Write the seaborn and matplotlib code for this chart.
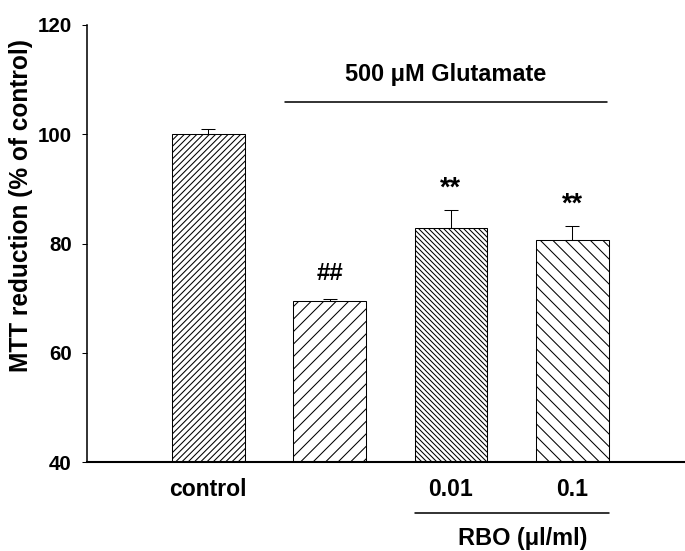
import matplotlib
matplotlib.use("Agg")
import matplotlib.pyplot as plt
import seaborn as sns
import numpy as np
import pandas as pd

# ---- data ----
categories = ["control", "glutamate", "0.01", "0.1"]
tick_labels = ["control", "", "0.01", "0.1"]
values = [100.0, 69.4, 82.9, 80.7]
errors = [1.0, 0.5, 3.2, 2.5]
hatches = ["////", "//", "\\\\\\\\\\", "\\\\"]
marks = ["", "##", "**", "**"]

DPI = 75
def pt(px):
    return px * 72.0 / DPI

sns.set_theme(style="ticks")
plt.rcParams['font.family'] = ['Liberation Sans', 'DejaVu Sans']
plt.rcParams['font.weight'] = 'bold'
plt.rcParams['hatch.linewidth'] = 1.0

fig = plt.figure(figsize=(685 / DPI, 551 / DPI), dpi=DPI)
ax = fig.add_axes([87 / 685, (551 - 462) / 551, 1 - 87 / 685, (462 - 25) / 551])

df = pd.DataFrame({"group": categories, "value": values})
sns.barplot(data=df, x="group", y="value", order=categories, color="white",
            edgecolor="black", linewidth=1.0, width=0.6, errorbar=None, ax=ax,
            saturation=1)
for patch, h in zip(ax.patches, hatches):
    patch.set_hatch(h)
    patch.set_facecolor("white")
    patch.set_edgecolor("black")

xs = np.arange(len(categories))
ax.errorbar(xs, values, yerr=[np.zeros(len(errors)), errors], fmt="none",
            ecolor="black", elinewidth=1.0, capsize=pt(7), capthick=1.0)

for x, v, e, m in zip(xs, values, errors, marks):
    if m:
        fs = 24 if m == "##" else 27
        off = 4.6 if m == "##" else 3.9
        ax.text(x, v + e + off, m, ha="center", va="center",
                fontsize=pt(fs), fontweight="bold", color="black")

ax.set_ylim(40, 120)
ax.set_xlim(-1.0, 3.93)
ax.set_yticks([40, 60, 80, 100, 120])
ax.set_xticks(xs)
ax.set_xticklabels(tick_labels)
ax.tick_params(axis="y", length=pt(5), width=1.0, pad=pt(10), labelsize=pt(20.5), colors="black")
ax.tick_params(axis="x", length=0, pad=pt(16), labelsize=pt(23), colors="black")
for lab in ax.get_xticklabels() + ax.get_yticklabels():
    lab.set_fontweight("bold")

ax.set_xlabel("")
ax.set_ylabel("MTT reduction (% of control)", fontsize=pt(24.5), fontweight="bold",
              color="black")
ax.yaxis.set_label_coords(-0.090, 0.588)

sns.despine(ax=ax)
ax.spines["left"].set_linewidth(1.5)
ax.spines["bottom"].set_linewidth(2.0)
ax.spines["left"].set_color("black")
ax.spines["bottom"].set_color("black")

# Glutamate bracket line and label (data coordinates)
ax.plot([0.63, 3.29], [105.9, 105.9], color="black", lw=1.5, clip_on=False)
ax.text(1.96, 111.0, "500 \u03bcM Glutamate", ha="center", va="center",
        fontsize=pt(23.5), fontweight="bold", color="black")

# RBO line and label below the axis
trans = ax.get_xaxis_transform()
ax.plot([1.70, 3.30], [-0.1167, -0.1167], color="black", lw=1.5,
        transform=trans, clip_on=False)
ax.text(2.59, -0.174, "RBO (\u03bcl/ml)", ha="center", va="center",
        fontsize=pt(23.5), fontweight="bold", color="black", transform=trans)

fig.savefig("out.png", dpi=DPI)
